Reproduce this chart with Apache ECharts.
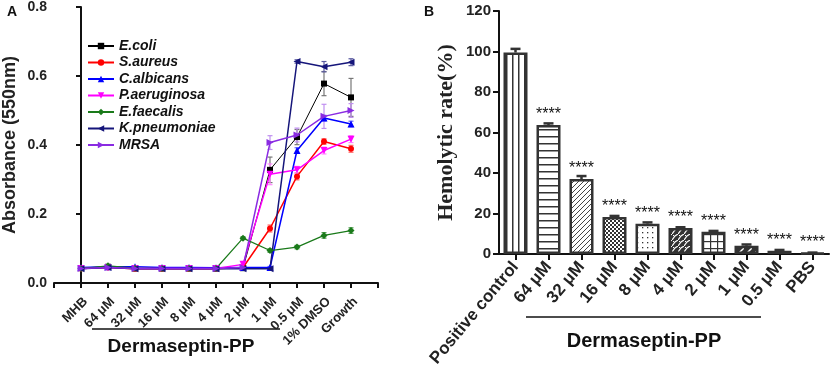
<!DOCTYPE html>
<html><head><meta charset="utf-8">
<script src="https://cdn.jsdelivr.net/npm/echarts@6/dist/echarts.min.js"></script>
<style>html,body{margin:0;padding:0;background:#fff}#c{width:831px;height:372px}</style>
</head><body><div id="c"></div>
<script>
// ---------- Panel A data ----------
const catsA = ['MHB','64 μM','32 μM','16 μM','8 μM','4 μM','2 μM','1 μM','0.5 μM','1% DMSO','Growth'];
const yTicksA = [0, 0.2, 0.4, 0.6, 0.8];
const ecoli     = [0.043,0.047,0.042,0.042,0.042,0.042,0.043,0.328,0.423,0.578,0.538];
const ecoliErr  = [0.003,0.003,0.002,0.002,0.002,0.002,0.003,0.037,0.022,0.035,0.055];
const saureus   = [0.042,0.045,0.041,0.041,0.041,0.041,0.045,0.158,0.309,0.410,0.389];
const saureusErr= [0.002,0.002,0.002,0.002,0.002,0.002,0.003,0.010,0.010,0.008,0.010];
const calb      = [0.045,0.047,0.047,0.045,0.045,0.044,0.045,0.045,0.384,0.478,0.461];
const calbErr   = [0.002,0.002,0.002,0.002,0.002,0.002,0.002,0.003,0.008,0.008,0.008];
const paer      = [0.042,0.045,0.042,0.042,0.042,0.042,0.054,0.315,0.328,0.384,0.417];
const paerErr   = [0.002,0.002,0.002,0.002,0.002,0.002,0.004,0.030,0.010,0.010,0.010];
const efae      = [0.042,0.050,0.043,0.042,0.042,0.042,0.130,0.094,0.104,0.138,0.152];
const efaeErr   = [0.002,0.002,0.002,0.002,0.002,0.002,0.004,0.005,0.005,0.008,0.008];
const kpn       = [0.041,0.045,0.041,0.041,0.041,0.041,0.041,0.041,0.642,0.627,0.640];
const kpnErr    = [0.002,0.002,0.002,0.002,0.002,0.002,0.002,0.002,0.005,0.015,0.010];
const mrsa      = [0.042,0.045,0.042,0.042,0.042,0.042,0.045,0.407,0.429,0.483,0.500];
const mrsaErr   = [0.002,0.002,0.002,0.002,0.002,0.002,0.003,0.020,0.020,0.035,0.020];

// ---------- Panel B data ----------
const catsB = ['Positive control','64 μM','32 μM','16 μM','8 μM','4 μM','2 μM','1 μM','0.5 μM','PBS'];
const yTicksB = [0, 20, 40, 60, 80, 100, 120];
const hemo    = [99.5, 63.7, 37.0, 18.3, 15.0, 12.8, 11.0, 4.1, 1.6, 0.5];
const hemoErr = [1.8, 0.8, 1.5, 0.5, 0.6, 0.4, 0.4, 0.6, 0.4, 0.2];
const stars   = ['', '****','****','****','****','****','****','****','****','****'];

// ---------- patterns ----------
function pat(w,h,bg,fg,draw){
  const c=document.createElement('canvas');c.width=w;c.height=h;
  const x=c.getContext('2d');x.fillStyle=bg;x.fillRect(0,0,w,h);
  x.fillStyle=fg;x.strokeStyle=fg;x.lineWidth=1;draw(x,w,h);
  return {image:c,repeat:'repeat'};
}
const patterns = [
  pat(6,6,'#fff','#333',(x)=>{x.fillRect(2,0,1.5,6);}),
  pat(6,7,'#fff','#333',(x)=>{x.fillRect(0,3,6,1.5);}),
  pat(5,5,'#fff','#444',(x)=>{x.beginPath();x.moveTo(-1,6);x.lineTo(6,-1);x.stroke();}),
  pat(4,4,'#333','#fff',(x)=>{x.fillRect(0,0,2,2);x.fillRect(2,2,2,2);}),
  pat(5,5,'#fff','#333',(x)=>{x.fillRect(2,2,1.3,1.3);}),
  pat(6,6,'#333','#fff',(x)=>{x.lineWidth=1.2;x.beginPath();x.moveTo(0,6);x.lineTo(3,2);x.lineTo(6,0);x.stroke();x.fillRect(1,1,1,1);}),
  pat(7,7,'#fff','#333',(x)=>{x.fillRect(3,0,1.2,7);x.fillRect(0,3,7,1.2);}),
  pat(8,8,'#333','#fff',(x)=>{x.lineWidth=1.5;x.beginPath();x.moveTo(0,8);x.lineTo(8,0);x.stroke();}),
  pat(4,4,'#333','#333',()=>{}),
  pat(4,4,'#333','#333',()=>{})
];

// ---------- build ----------
const chart = echarts.init(document.getElementById('c'), null, {renderer:'canvas'});
const F = 'Arial, "Liberation Sans", sans-serif';

const speciesA = [
  {name:'E.coli', data:ecoli, err:ecoliErr, color:'#000000', errColor:'#777777', symbol:'rect', rot:0, size:6, lw:1},
  {name:'S.aureus', data:saureus, err:saureusErr, color:'#ff0000', errColor:'#ff6666', symbol:'circle', rot:0, size:6, lw:1.5},
  {name:'C.albicans', data:calb, err:calbErr, color:'#0000ff', errColor:'#6666ff', symbol:'triangle', rot:0, size:7, lw:1.5},
  {name:'P.aeruginosa', data:paer, err:paerErr, color:'#ff00ff', errColor:'#ff88ff', symbol:'triangle', rot:180, size:7, lw:1.5},
  {name:'E.faecalis', data:efae, err:efaeErr, color:'#1a7a1a', errColor:'#4a9a4a', symbol:'diamond', rot:0, size:7, lw:1.2},
  {name:'K.pneumoniae', data:kpn, err:kpnErr, color:'#15157a', errColor:'#5a5aa0', symbol:'triangle', rot:90, size:7, lw:1.5},
  {name:'MRSA', data:mrsa, err:mrsaErr, color:'#8a2be2', errColor:'#c090f0', symbol:'triangle', rot:-90, size:7, lw:1.5}
];

const series = [];
speciesA.forEach(s=>{
  series.push({
    type:'custom', xAxisIndex:0, yAxisIndex:0, silent:true, z:1,
    data: s.data.map((v,i)=>[i, v, s.err[i]]),
    renderItem:(p,api)=>{
      const x=api.value(0), v=api.value(1), e=api.value(2);
      const top=api.coord([x, v+e]), bot=api.coord([x, v-e]);
      const st={stroke:s.errColor, lineWidth:1.2};
      return {type:'group', children:[
        {type:'line', shape:{x1:top[0],y1:top[1],x2:bot[0],y2:bot[1]}, style:st},
        {type:'line', shape:{x1:top[0]-2.5,y1:top[1],x2:top[0]+2.5,y2:top[1]}, style:st},
        {type:'line', shape:{x1:bot[0]-2.5,y1:bot[1],x2:bot[0]+2.5,y2:bot[1]}, style:st}
      ]};
    }
  });
  series.push({
    name:s.name, type:'line', xAxisIndex:0, yAxisIndex:0, z:3,
    data: s.data.map((v,i)=>[i,v]),
    symbol:s.symbol, symbolRotate:s.rot, symbolSize:s.size, showSymbol:true,
    lineStyle:{color:s.color, width:s.lw}, itemStyle:{color:s.color},
    animation:false
  });
});

series.push({
  type:'bar', xAxisIndex:1, yAxisIndex:1, barWidth:24, z:2,
  data: hemo.map((v,i)=>({value:v, itemStyle:{color:patterns[i]}})),
  itemStyle:{borderColor:'#333', borderWidth:2.5},
  label:{show:true, position:'top', distance:2, color:'#111', fontFamily:F, fontSize:16,
         formatter:(p)=>stars[p.dataIndex]},
  animation:false
});
series.push({
  type:'custom', xAxisIndex:1, yAxisIndex:1, silent:true, z:3,
  data: hemo.map((v,i)=>[i, v, hemoErr[i]]),
  renderItem:(p,api)=>{
    const x=api.value(0), v=api.value(1), e=api.value(2);
    const top=api.coord([x, v+e]), base=api.coord([x, v]);
    const st={stroke:'#333', lineWidth:2.5};
    return {type:'group', children:[
      {type:'line', shape:{x1:top[0],y1:top[1],x2:base[0],y2:base[1]}, style:st},
      {type:'line', shape:{x1:top[0]-5,y1:top[1],x2:top[0]+5,y2:top[1]}, style:st}
    ]};
  }
});

const axisLineA = {show:true, lineStyle:{color:'#111', width:2}};
const option = {
  animation:false,
  backgroundColor:'#fff',
  grid:[
    {left:53, top:7, width:325, height:276},
    {left:499, top:11, width:330, height:243}
  ],
  legend:{
    data: speciesA.map(s=>s.name),
    orient:'vertical', left:82, top:34, itemWidth:26, itemHeight:8, itemGap:2.5,
    textStyle:{fontFamily:F, fontWeight:'bold', fontStyle:'italic', fontSize:14, color:'#111'},
    selectedMode:false
  },
  xAxis:[
    {gridIndex:0, type:'value', min:-1, max:11, interval:1,
     axisLine:axisLineA, splitLine:{show:false},
     axisTick:{show:true, length:5, lineStyle:{color:'#111', width:2}},
     axisLabel:{rotate:45, margin:12, verticalAlign:'top', fontFamily:F, fontWeight:'bold', fontSize:13, color:'#222',
       formatter:(v)=> (v>=0 && v<catsA.length) ? catsA[v] : ''}},
    {gridIndex:1, type:'category', data:catsB,
     axisLine:axisLineA,
     axisTick:{show:true, alignWithLabel:true, length:6, lineStyle:{color:'#111', width:2}},
     axisLabel:{rotate:50, margin:10, fontFamily:F, fontWeight:'bold', fontSize:17, color:'#222', interval:0}}
  ],
  yAxis:[
    {gridIndex:0, type:'value', min:0, max:0.8, interval:0.2,
     name:'Absorbance (550nm)', nameLocation:'middle', nameGap:35,
     nameTextStyle:{fontFamily:F, fontWeight:'bold', fontSize:18, color:'#222'},
     axisLine:axisLineA, splitLine:{show:false},
     axisTick:{show:true, length:5, lineStyle:{color:'#111', width:2}},
     axisLabel:{fontFamily:F, fontWeight:'bold', fontSize:14, color:'#222', margin:7,
       formatter:(v)=>v.toFixed(1)}},
    {gridIndex:1, type:'value', min:0, max:120, interval:20,
     name:'Hemolytic rate(%)', nameLocation:'middle', nameGap:42,
     nameTextStyle:{fontFamily:'"Liberation Serif", "Times New Roman", serif', fontWeight:'bold', fontSize:22, color:'#222'},
     axisLine:axisLineA, splitLine:{show:false},
     axisTick:{show:true, length:6, lineStyle:{color:'#111', width:2}},
     axisLabel:{fontFamily:F, fontWeight:'bold', fontSize:15, color:'#222', margin:8}}
  ],
  graphic:[
    {type:'text', left:7, top:5, style:{text:'A', font:'bold 14px Arial', fill:'#111'}},
    {type:'text', left:424, top:5, style:{text:'B', font:'bold 14px Arial', fill:'#111'}},
    {type:'line', shape:{x1:92, y1:329, x2:280, y2:329}, style:{stroke:'#111', lineWidth:1.5}},
    {type:'text', x:181, y:347, style:{text:'Dermaseptin-PP', font:'bold 19px Arial', fill:'#111', align:'center', verticalAlign:'middle'}},
    {type:'line', shape:{x1:526, y1:317, x2:761, y2:317}, style:{stroke:'#111', lineWidth:1.5}},
    {type:'text', x:644, y:341, style:{text:'Dermaseptin-PP', font:'bold 20px Arial', fill:'#111', align:'center', verticalAlign:'middle'}}
  ],
  series: series
};
chart.setOption(option);
</script>
</body></html>
